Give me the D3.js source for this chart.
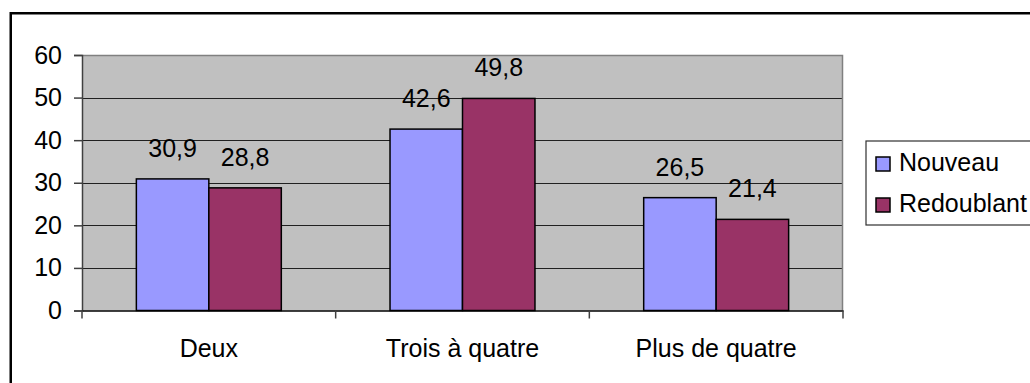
<!DOCTYPE html>
<html>
<head>
<meta charset="utf-8">
<script src="https://cdn.jsdelivr.net/npm/d3@7"></script>
<style>
  html, body { margin: 0; padding: 0; background: #fff; }
  svg { display: block; font-family: Arial, "Liberation Sans", sans-serif; }
</style>
</head>
<body>
<svg id="chart" width="1030" height="383"></svg>
<script>
// Categories, series and their values
const categories = ["Deux", "Trois à quatre", "Plus de quatre"];
const seriesNames = ["Nouveau", "Redoublant"];
const nouveau = [30.9, 42.6, 26.5];
const redoublant = [28.8, 49.8, 21.4];
const yTicks = [0, 10, 20, 30, 40, 50, 60];
const seriesColors = ["#9999FF", "#993366"];

const seriesValues = [nouveau, redoublant];
const fmt = v => String(v).replace(".", ",");
const FONT = "Arial, 'Liberation Sans', sans-serif";
const FS = 25;

const svg = d3.select("#chart");

// Outer chart frame
svg.append("rect")
  .attr("x", 10.75).attr("y", 13.25)
  .attr("width", 1100).attr("height", 400)
  .attr("fill", "none").attr("stroke", "#000").attr("stroke-width", 2.5);

const plot = { left: 82, right: 843, top: 55, bottom: 310.5 };

const x = d3.scaleBand()
  .domain(categories)
  .range([plot.left, plot.right])
  .paddingInner(0).paddingOuter(0);

const barW = x.bandwidth() / 3.5;
const xSeries = d3.scaleBand()
  .domain(seriesNames)
  .range([0.75 * barW, 2.75 * barW]);

const y = d3.scaleLinear().domain([0, 60]).range([plot.bottom, plot.top]);

// Plot area background
svg.append("rect")
  .attr("x", plot.left).attr("y", plot.top)
  .attr("width", plot.right - plot.left).attr("height", plot.bottom - plot.top)
  .attr("fill", "#C0C0C0");

// Gridlines
svg.append("g")
  .selectAll("line")
  .data(yTicks.filter(t => t > 0 && t < 60))
  .join("line")
  .attr("x1", plot.left).attr("x2", plot.right)
  .attr("y1", d => Math.round(y(d)) + 0.5).attr("y2", d => Math.round(y(d)) + 0.5)
  .attr("stroke", "#202020").attr("stroke-width", 1);

// Plot border (top and right in gray)
svg.append("path")
  .attr("d", `M${plot.left},${plot.top + 0.5}H${plot.right - 0.5}V${plot.bottom}`)
  .attr("fill", "none").attr("stroke", "#808080").attr("stroke-width", 1.5);

// Bars
const groups = svg.append("g")
  .selectAll("g")
  .data(categories)
  .join("g")
  .attr("transform", d => `translate(${x(d)},0)`);

groups.selectAll("rect")
  .data((c, i) => seriesNames.map((s, j) => ({ s, v: seriesValues[j][i], j })))
  .join("rect")
  .attr("x", d => xSeries(d.s))
  .attr("y", d => y(d.v))
  .attr("width", xSeries.bandwidth())
  .attr("height", d => plot.bottom - y(d.v))
  .attr("fill", d => seriesColors[d.j])
  .attr("stroke", "#000").attr("stroke-width", 1.5);

// Value labels
groups.selectAll("text")
  .data((c, i) => seriesNames.map((s, j) => ({ s, v: seriesValues[j][i], j })))
  .join("text")
  .attr("x", d => xSeries(d.s) + xSeries.bandwidth() / 2)
  .attr("y", d => y(d.v) - 22)
  .attr("text-anchor", "middle")
  .attr("font-size", FS)
  .attr("fill", "#000")
  .text(d => fmt(d.v));

// Y axis
const yAxis = d3.axisLeft(y).tickValues(yTicks).tickSize(8).tickPadding(12);
const gy = svg.append("g")
  .attr("transform", `translate(${plot.left},0)`)
  .call(yAxis);
gy.select(".domain").attr("stroke", "#404040").attr("stroke-width", 1.5);
gy.selectAll(".tick line").attr("stroke", "#404040").attr("stroke-width", 1.5);
gy.selectAll(".tick text")
  .attr("font-size", FS).attr("font-family", FONT)
  .attr("fill", "#000");

// X axis
const xAxis = d3.axisBottom(x).tickSize(0).tickPadding(29);
const gx = svg.append("g")
  .attr("transform", `translate(0,${plot.bottom})`)
  .call(xAxis);
gx.select(".domain").attr("stroke", "#000").attr("stroke-width", 1.5);
gx.selectAll(".tick text")
  .attr("font-size", FS).attr("font-family", FONT)
  .attr("fill", "#000");

// Category separator ticks
svg.append("g")
  .selectAll("line")
  .data(categories.map(c => x(c)).concat([plot.right]))
  .join("line")
  .attr("x1", d => d).attr("x2", d => d)
  .attr("y1", plot.bottom).attr("y2", plot.bottom + 8)
  .attr("stroke", "#404040").attr("stroke-width", 1.5);

// Legend
const legend = svg.append("g");
legend.append("rect")
  .attr("x", 866).attr("y", 141)
  .attr("width", 300).attr("height", 84)
  .attr("fill", "#fff").attr("stroke", "#303030").attr("stroke-width", 1.2);

const items = legend.selectAll("g.item")
  .data(seriesNames)
  .join("g")
  .attr("class", "item")
  .attr("transform", (d, i) => `translate(876,${157 + i * 41})`);

items.append("rect")
  .attr("width", 14).attr("height", 14)
  .attr("fill", (d, i) => seriesColors[i])
  .attr("stroke", "#000").attr("stroke-width", 1.5);

items.append("text")
  .attr("x", 23).attr("y", 14)
  .attr("font-size", FS)
  .attr("fill", "#000")
  .text(d => d);
</script>
</body>
</html>
